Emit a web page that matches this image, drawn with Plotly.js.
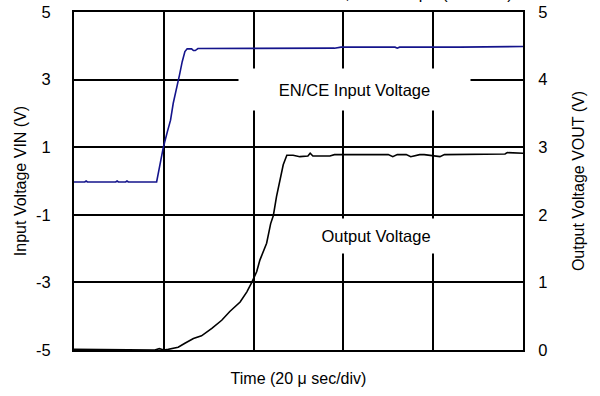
<!DOCTYPE html>
<html>
<head>
<meta charset="utf-8">
<script src="https://cdn.plot.ly/plotly-3.0.1.min.js"></script>
<style>html,body{margin:0;padding:0;background:#fff;}#chart{width:600px;height:396px;}</style>
</head>
<body>
<div id="chart"></div>
<script>
// Time in microseconds (20 us per division)
const vinTime = [0, 2.4, 2.7, 3.0, 9.3, 9.6, 9.9, 11.5, 11.8, 12.1, 18.4, 19.0, 19.9, 20.8, 21.5, 22.1, 22.9, 23.5, 24.1, 24.7, 25.2, 26.2, 26.6, 27.0, 27.6, 45, 58, 59.5, 71.5, 72, 72.5, 86, 100];
const vinVolt = [-0.03, -0.03, 0.0, -0.03, -0.03, 0.0, -0.03, -0.03, 0.0, -0.03, -0.03, 0.4, 1.0, 1.46, 1.80, 2.3, 2.74, 3.14, 3.53, 3.83, 3.91, 3.91, 3.86, 3.86, 3.92, 3.92, 3.93, 3.96, 3.96, 3.93, 3.96, 3.96, 3.98];

const voutTime = [0, 17, 18, 19, 20, 21, 23.2, 24.7, 26.6, 28.4, 30.7, 32.9, 34.7, 37.0, 38.5, 39.6, 40.7, 41.4, 42.9, 43.8, 44.4, 45.1, 45.9, 46.6, 47.4, 48.8, 50.3, 52.1, 52.6, 53.2, 57, 58, 70, 71, 72, 74, 75, 77, 78, 81.5, 82.5, 83.5, 96, 96.5, 100];
const voutVolt = [0.01, 0.01, 0.0, 0.02, 0.0, 0.01, 0.04, 0.10, 0.17, 0.21, 0.32, 0.44, 0.57, 0.71, 0.86, 1.0, 1.16, 1.33, 1.58, 1.87, 1.99, 2.27, 2.51, 2.74, 2.88, 2.88, 2.86, 2.87, 2.91, 2.87, 2.87, 2.89, 2.89, 2.86, 2.89, 2.89, 2.86, 2.89, 2.89, 2.86, 2.89, 2.89, 2.90, 2.92, 2.91, 2.91];

const leftTicks = [-5, -3, -1, 1, 3, 5];
const rightTicks = [0, 1, 2, 3, 4, 5];
const xGrid = [0, 20, 40, 60, 80, 100];

const FONT = 'Liberation Sans, Arial, sans-serif';

const traces = [
  {x: vinTime, y: vinVolt, type: 'scatter', mode: 'lines', yaxis: 'y',
   line: {color: 'rgb(20,20,140)', width: 1.6}, hoverinfo: 'skip', showlegend: false},
  {x: voutTime, y: voutVolt, type: 'scatter', mode: 'lines', yaxis: 'y2',
   line: {color: '#000', width: 1.6}, hoverinfo: 'skip', showlegend: false}
];

const layout = {
  width: 600, height: 396,
  margin: {l: 74, r: 77, t: 12, b: 46},
  paper_bgcolor: '#fff', plot_bgcolor: '#fff',
  font: {family: FONT, color: '#000', size: 16},
  showlegend: false,
  xaxis: {
    range: [0, 100], tickvals: xGrid, showticklabels: false, ticks: '',
    showgrid: true, gridcolor: '#000', gridwidth: 2,
    showline: true, linecolor: '#000', linewidth: 2, mirror: true, zeroline: false,
    title: {text: 'Time (20 \u03bc sec/div)', font: {size: 16}, standoff: 22}
  },
  yaxis: {
    range: [-5, 5], tickvals: leftTicks, ticktext: leftTicks.map(String), ticks: '',
    ticklabelstandoff: 18, tickfont: {size: 16.5},
    showgrid: true, gridcolor: '#000', gridwidth: 2,
    showline: true, linecolor: '#000', linewidth: 2, zeroline: false,
    title: {text: 'Input Voltage VIN (V)', font: {size: 16}, standoff: 5}
  },
  yaxis2: {
    range: [0, 5], tickvals: rightTicks, overlaying: 'y', side: 'right', ticks: '',
    ticklabelstandoff: 10, tickfont: {size: 16.5},
    showgrid: false, showline: true, linecolor: '#000', linewidth: 2, zeroline: false,
    title: {text: 'Output Voltage VOUT (V)', font: {size: 16}, standoff: 26}
  },
  annotations: [
    {text: 'EN/CE Input Voltage', xref: 'paper', yref: 'paper', x: 0.624, y: 0.771,
     xanchor: 'center', yanchor: 'middle', showarrow: false, bgcolor: '#fff',
     width: 229, height: 39, font: {size: 16.5}},
    {text: 'Output Voltage', xref: 'paper', yref: 'paper', x: 0.673, y: 0.337,
     xanchor: 'center', yanchor: 'middle', showarrow: false, bgcolor: '#fff',
     width: 150, height: 32, font: {size: 16.5}},
    {text: 'EN/CE = 0\u21924V, CL = 1.0 \u03bcF (Ceramic)', xref: 'paper', yref: 'paper', x: 0.98, y: 1.0237,
     xanchor: 'right', yanchor: 'bottom', showarrow: false, font: {size: 16}}
  ]
};

Plotly.newPlot('chart', traces, layout, {displayModeBar: false, staticPlot: true});
</script>
</body>
</html>
